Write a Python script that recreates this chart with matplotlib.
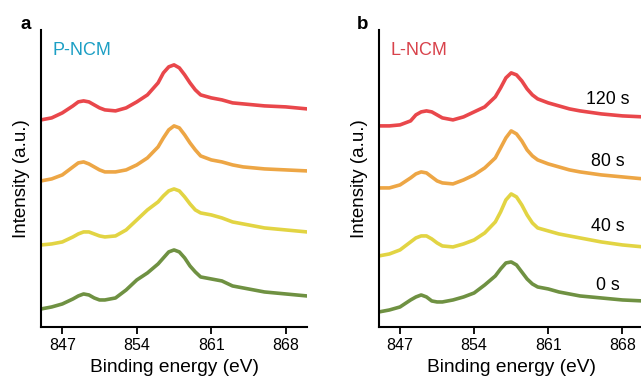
import matplotlib.pyplot as plt

plt.rcParams['font.family'] = ['Liberation Sans', 'DejaVu Sans']

# binding energy grid (eV)
energy = [845, 846, 847, 848, 848.5, 849, 849.5, 850, 850.5, 851, 852, 853, 854, 855, 856,
          856.5, 857, 857.5, 858, 858.5, 859, 859.5, 860, 861, 862, 863, 864, 866, 868, 870]

# panel a: P-NCM (offset intensities, a.u.)
p_120 = [207, 209, 214, 221, 225, 226, 225, 222, 219, 217, 216, 219, 225, 232, 244,
         254, 260, 262, 259, 252, 244, 237, 232, 229, 227, 224, 223, 221, 220, 218]
p_80 = [146, 148, 152, 160, 164, 165, 163, 160, 157, 155, 155, 157, 162, 169, 180,
        189, 197, 201, 199, 192, 184, 177, 171, 167, 165, 162, 160, 158, 157, 156]
p_40 = [82, 83, 85, 90, 93, 95, 95, 93, 91, 90, 91, 97, 107, 117, 125,
        131, 136, 138, 136, 130, 123, 117, 114, 112, 109, 105, 103, 99, 97, 95]
p_0 = [18, 20, 23, 28, 31, 33, 32, 29, 27, 27, 29, 37, 47, 54, 63,
       69, 75, 77, 75, 69, 61, 55, 50, 48, 46, 41, 39, 35, 33, 31]

# panel b: L-NCM
l_120 = [201, 201, 202, 206, 212, 215, 216, 215, 212, 209, 207, 210, 215, 220, 230,
         239, 249, 254, 252, 246, 238, 232, 228, 224, 221, 218, 216, 213, 211, 210]
l_80 = [139, 139, 142, 149, 153, 155, 154, 150, 146, 144, 143, 147, 152, 159, 169,
        179, 189, 196, 193, 186, 177, 171, 167, 163, 160, 157, 155, 152, 150, 148]
l_40 = [71, 73, 77, 85, 89, 91, 91, 88, 84, 81, 80, 83, 87, 94, 105,
        115, 127, 133, 130, 122, 112, 104, 99, 96, 93, 91, 89, 85, 82, 80]
l_0 = [15, 17, 20, 27, 30, 32, 30, 26, 25, 25, 27, 30, 34, 42, 51,
       58, 64, 65, 62, 55, 48, 43, 40, 38, 35, 33, 31, 29, 27, 26]

times = ['120 s', '80 s', '40 s', '0 s']
time_label_y = [227, 165, 100, 41]
colors = ['#e9474b', '#eda645', '#e2d443', '#6f9142']
ticks = [847, 854, 861, 868]

fig = plt.figure(figsize=(6.41, 3.78), dpi=100)
ax_a = fig.add_axes([0.064, 0.135, 0.415, 0.786])
ax_b = fig.add_axes([0.591, 0.135, 0.413, 0.786])

panels = [
    (ax_a, [p_120, p_80, p_40, p_0], 'P-NCM', '#1c9fc4', 'a'),
    (ax_b, [l_120, l_80, l_40, l_0], 'L-NCM', '#d8424b', 'b'),
]

for ax, series, name, name_color, letter in panels:
    for ys, c in zip(series, colors):
        ax.plot(energy, ys, color=c, lw=2.6, solid_capstyle='round',
                solid_joinstyle='round')
    ax.set_xlim(845, 870)
    ax.set_ylim(0, 297)
    ax.set_xticks(ticks)
    ax.set_yticks([])
    ax.tick_params(axis='x', direction='out', length=5, width=1.3, labelsize=11.5, pad=3)
    for s in ['top', 'right']:
        ax.spines[s].set_visible(False)
    for s in ['left', 'bottom']:
        ax.spines[s].set_linewidth(1.5)
    ax.set_xlabel('Binding energy (eV)', fontsize=13.8, labelpad=4)
    ax.set_ylabel('Intensity (a.u.)', fontsize=13.5, labelpad=8)
    ax.text(0.045, 0.96, name, transform=ax.transAxes, color=name_color,
            fontsize=13, va='top', ha='left')
    ax.text(-0.04, 0.99, letter, transform=ax.transAxes, fontsize=13.5,
            fontweight='bold', va='bottom', ha='right')

for t, y in zip(times, time_label_y):
    ax_b.text(866.6, y, t, fontsize=12.8, ha='center', va='center')

fig.savefig('out.png', dpi=100)
